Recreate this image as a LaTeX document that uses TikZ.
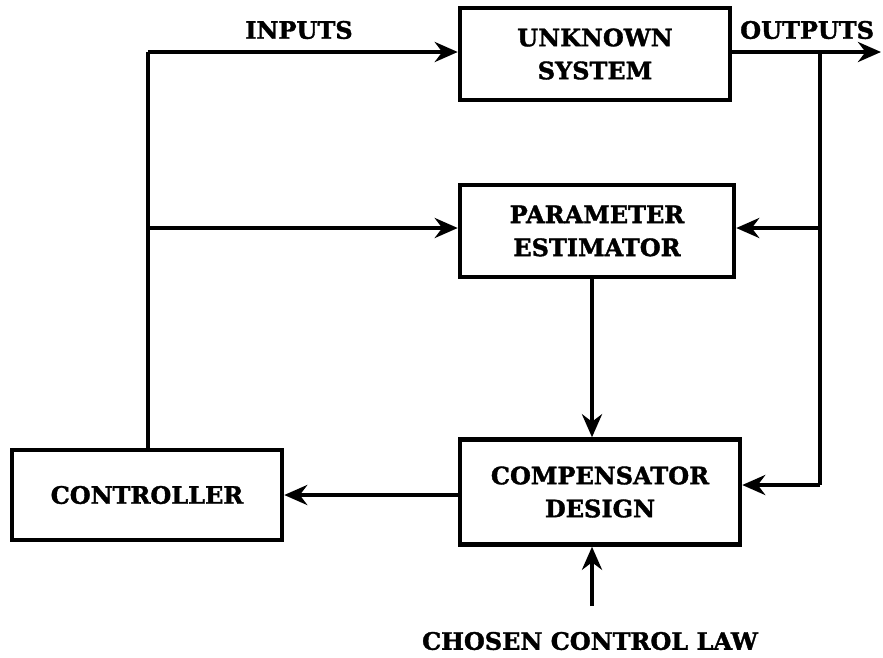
\documentclass[tikz,border=0pt]{standalone}
\usepackage{fontspec}
\setmainfont{DejaVu Serif}[BoldFeatures={FakeBold=1.5}]
\usetikzlibrary{arrows.meta}
\begin{document}
\begin{tikzpicture}[x=1pt,y=-1pt,
  blk/.style={draw,line width=4.5pt,inner sep=0pt,align=center,font=\bfseries\fontsize{24}{33}\selectfont},
  lbl/.style={font=\bfseries\fontsize{24}{28}\selectfont,inner sep=0pt},
  conn/.style={line width=4pt,-{Stealth[length=23pt,width=20pt]}},
  wire/.style={line width=4pt}]
\useasboundingbox (0,0) rectangle (883,657);
\node[blk,minimum width=270pt,minimum height=92pt] (us) at (595,54) {UNKNOWN\\SYSTEM};
\node[blk,minimum width=274pt,minimum height=92pt] (pe) at (597,231) {PARAMETER\\ESTIMATOR};
\node[blk,minimum width=280pt,minimum height=105pt] (cd) at (600,492) {COMPENSATOR\\DESIGN};
\node[blk,minimum width=270pt,minimum height=90pt] (ct) at (147,495) {CONTROLLER};
\node[lbl] (in) at (299,30) {INPUTS};
\node[lbl,anchor=west] (out) at (740,30) {OUTPUTS};
\node[lbl] (law) at (590,641) {CHOSEN CONTROL LAW};
\coordinate (tl) at (148,52);
\coordinate (ml) at (148,228);
\coordinate (oe) at (881,52);
\coordinate (or) at (820,52);
\coordinate (om) at (820,228);
\coordinate (ob) at (820,485);
\coordinate (ls) at (592,606);
\draw[wire] (ct.north -| tl) -- (tl);
\draw[conn] (tl) -- (tl -| us.west);
\draw[conn] (ml) -- (ml -| pe.west);
\draw[conn] (us.east |- or) -- (oe);
\draw[wire] (or) -- (ob);
\draw[conn] (om) -- (om -| pe.east);
\draw[conn] (ob) -- (ob -| cd.east);
\draw[conn] (pe.south -| ls) -- (cd.north -| ls);
\draw[conn] (cd.west |- ct.east) -- (ct.east);
\draw[conn] (ls) -- (cd.south -| ls);
\end{tikzpicture}
\end{document}
